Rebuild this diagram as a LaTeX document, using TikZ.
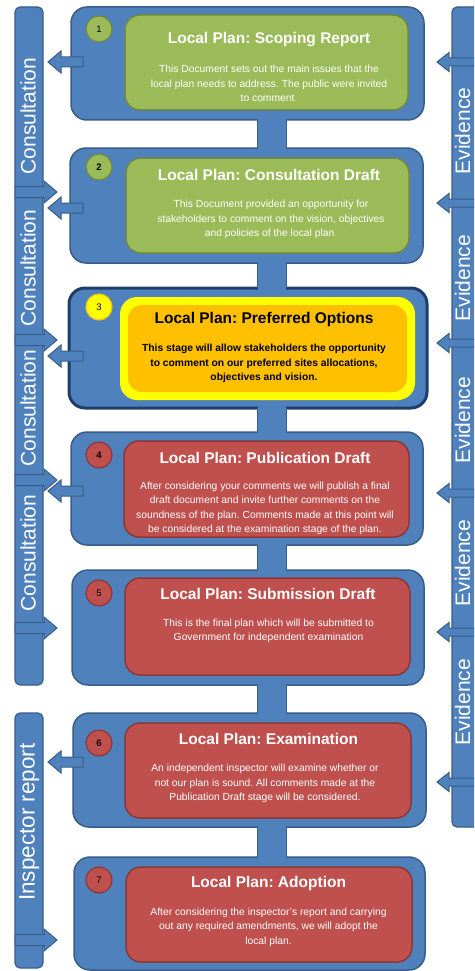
\documentclass[tikz,border=0pt]{standalone}
\usepackage{fontspec}
\setmainfont{Liberation Sans}
\frenchspacing
\definecolor{blueF}{HTML}{4F81BD}
\definecolor{blueD}{HTML}{385D8A}
\definecolor{navyD}{HTML}{1F3E6B}
\definecolor{greenF}{HTML}{9BBB59}
\definecolor{greenD}{HTML}{71893F}
\definecolor{redF}{HTML}{C0504D}
\definecolor{redD}{HTML}{8C3836}
\definecolor{yelF}{HTML}{FFFF00}
\definecolor{orgF}{HTML}{FFC000}
\definecolor{yelD}{HTML}{F2C314}
\tikzset{
  sidebar/.style={draw=blueD, fill=blueF, line width=1.2pt, rounded corners=5pt, inner sep=0pt, outer sep=0pt},
  outerbox/.style={draw=blueD, fill=blueF, line width=1.5pt, rounded corners=16pt, inner sep=0pt, outer sep=0pt},
  greenbox/.style={draw=greenD, fill=greenF, line width=1.5pt, rounded corners=15pt, inner sep=0pt},
  redbox/.style={draw=redD, fill=redF, line width=1.5pt, rounded corners=15pt, inner sep=0pt},
  numc/.style={circle, minimum size=26pt, inner sep=0pt, line width=1.2pt, text=black, font=\fontsize{9.5}{10}\selectfont},
  ttl/.style={text=white, font=\fontsize{15.5}{18}\selectfont\bfseries, inner sep=0pt},
  bodytxt/.style={text=white, align=center, font=\fontsize{10.3}{14.5}\selectfont, inner sep=0pt},
  sidelab/.style={text=white, rotate=90, anchor=base, inner sep=0pt, font=\fontsize{21}{24}\selectfont},
  barrow/.style={draw=blueD, fill=blueF, line width=1pt, line join=miter},
}
% tip x, y, head base x, tail x, shaft half height, head half height
\newcommand\blockarrow[6]{\draw[barrow] (#1,#2) -- (#3,#2-#6) -- (#3,#2-#5) -- (#4,#2-#5) -- (#4,#2+#5) -- (#3,#2+#5) -- (#3,#2+#6) -- cycle;}
\begin{document}
\begin{tikzpicture}[x=1pt,y=-1pt]
\useasboundingbox (0,0) rectangle (474,971);
\clip (0,0) rectangle (474,971);
\fill[white] (0,0) rectangle (474,971);

% side bars
\node[sidebar, minimum width=28pt, minimum height=678pt] (conbar) at (29,346) {};
\node[sidebar, minimum width=28pt, minimum height=255pt] (inspbar) at (29,840.5) {};
\node[sidebar, minimum width=43pt, minimum height=820pt] (evbar) at (473.5,417) {};

\node[sidelab] (c1) at (35.5,116) {Consultation};
\node[sidelab] (c2) at (35.5,268) {Consultation};
\node[sidelab] (c3) at (35.5,408) {Consultation};
\node[sidelab] (c4) at (35.5,553) {Consultation};
\node[sidelab, font=\fontsize{22.5}{26}\selectfont] (ir) at (34.5,822) {Inspector report};
\node[sidelab] (e1) at (470,131) {Evidence};
\node[sidelab] (e2) at (470,278) {Evidence};
\node[sidelab] (e3) at (470,420) {Evidence};
\node[sidelab] (e4) at (470,563) {Evidence};
\node[sidelab] (e5) at (470,702) {Evidence};

% outer step boxes
\node[outerbox, minimum width=353pt, minimum height=113pt] (s1) at (247.5,63.5) {};
\node[outerbox, minimum width=353pt, minimum height=115pt] (s2) at (246.5,205.5) {};
\node[outerbox, draw=navyD, line width=3pt, minimum width=358pt, minimum height=120pt] (s3) at (248,348) {};
\node[outerbox, minimum width=352pt, minimum height=113pt] (s4) at (247,488.5) {};
\node[outerbox, minimum width=352pt, minimum height=115pt] (s5) at (248,627.5) {};
\node[outerbox, minimum width=353pt, minimum height=114pt] (s6) at (249.5,770) {};
\node[outerbox, minimum width=351pt, minimum height=113pt] (s7) at (249.5,913.5) {};

% vertical connectors
\coordinate (cx) at (272,0);
\foreach \a/\b in {s1/s2,s2/s3,s3/s4,s4/s5,s5/s6,s6/s7}{
  \draw[line width=30pt, blueD] (\a.south -| cx) -- (\b.north -| cx);
  \draw[line width=27.6pt, blueF, shorten <=-2.6pt, shorten >=-2.6pt] (\a.south -| cx) -- (\b.north -| cx);
}

% inner boxes
\node[greenbox, minimum width=283pt, minimum height=95pt] (i1) at (266.5,62.5) {};
\node[greenbox, minimum width=283pt, minimum height=95pt] (i2) at (267.5,205.5) {};
\node[fill=yelF, rounded corners=17pt, inner sep=0pt, minimum width=295pt, minimum height=103pt] (i3y) at (267.5,348.5) {};
\node[fill=orgF, rounded corners=14pt, inner sep=0pt, minimum width=279pt, minimum height=87pt] (i3) at (267.5,348.5) {};
\node[redbox, minimum width=285pt, minimum height=96pt] (i4) at (266.5,489) {};
\node[redbox, minimum width=285pt, minimum height=97pt] (i5) at (267.5,626.5) {};
\node[redbox, minimum width=286pt, minimum height=95pt] (i6) at (268,770.5) {};
\node[redbox, minimum width=286pt, minimum height=95pt] (i7) at (269,914.5) {};

% number circles
\node[numc, fill=greenF, draw=greenD] (n1) at (99,29) {1};
\node[numc, fill=greenF, draw=greenD, font=\fontsize{9.5}{10}\selectfont\bfseries] (n2) at (99,167) {2};
\node[numc, fill=yelF, draw=yelD] (n3) at (99,307) {3};
\node[numc, fill=redF, draw=redD, font=\fontsize{9.5}{10}\selectfont\bfseries] (n4) at (99,455) {4};
\node[numc, fill=redF, draw=redD] (n5) at (99,593) {5};
\node[numc, fill=redF, draw=redD, font=\fontsize{9.5}{10}\selectfont\bfseries] (n6) at (99,743) {6};
\node[numc, fill=redF, draw=redD] (n7) at (99,880) {7};

% titles
\node[ttl] (t1) at (269,39.5) {Local Plan: Scoping Report};
\node[ttl] (t2) at (269,174.5) {Local Plan: Consultation Draft};
\node[ttl, text=black] (t3) at (264,319.5) {Local Plan: Preferred Options};
\node[ttl] (t4) at (265,457.5) {Local Plan: Publication Draft};
\node[ttl] (t5) at (268,593.5) {Local Plan: Submission Draft};
\node[ttl] (t6) at (268.5,738.5) {Local Plan: Examination};
\node[ttl] (t7) at (268.5,883.5) {Local Plan: Adoption};

% body texts
\node[bodytxt] (b1) at (269,83.5) {This Document sets out the main issues that the\\local plan needs to address. The public were invited\\to comment\textcolor{orgF}{.}};
\node[bodytxt] (b2) at (271,219.5) {This Document provided an opportunity for\\stakeholders to comment on the vision, objectives\\and policies of the local plan\textcolor{orgF}{.}};
\node[bodytxt, text=black, font=\fontsize{10.3}{14.5}\selectfont\bfseries] (b3) at (264,363.5) {This stage will allow stakeholders the opportunity\\to comment on our preferred sites allocations,\\objectives and vision.};
\node[bodytxt] (b4) at (265,508.5) {After considering your comments we will publish a final\\draft document and invite further comments on the\\soundness of the plan. Comments made at this point will\\be considered at the examination stage of the plan.};
\node[bodytxt] (b5) at (268.5,631) {This is the final plan which will be submitted to\\Government for independent examination};
\node[bodytxt] (b6) at (265,783.5) {An independent inspector will examine whether or\\not our plan is sound. All comments made at the\\Publication Draft stage will be considered.};
\node[bodytxt] (b7) at (268.5,927) {After considering the inspector's report and carrying\\out any required amendments, we will adopt the\\local plan.};

% block arrows: bar -> step (pointing right)
\foreach \yy in {192,340,480,628,940}{\blockarrow{57}{\yy}{44}{15}{5.5}{11}}
% step -> bar (pointing left)
\foreach \yy in {62,208,356,491,762}{\blockarrow{48}{\yy}{61}{83}{5}{11}}
% evidence -> step (pointing left)
\foreach \yy in {62,203,343,493,632,782}{\blockarrow{437}{\yy}{449}{490}{4}{9.5}}
\end{tikzpicture}
\end{document}
